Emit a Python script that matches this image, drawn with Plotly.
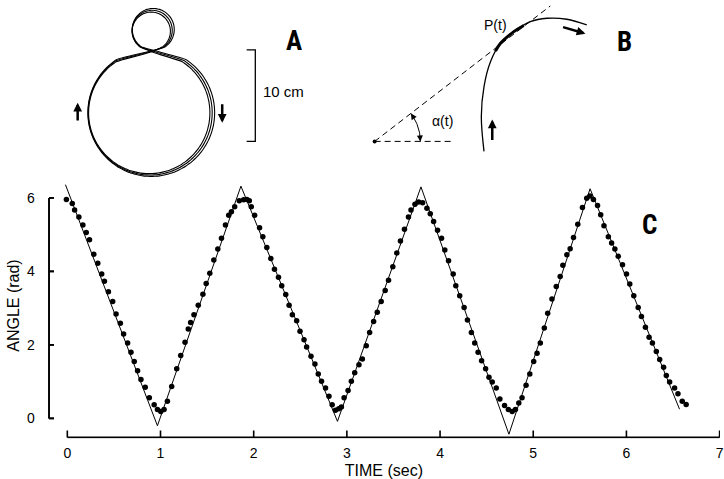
import numpy as np
import plotly.graph_objects as go

W, H = 724, 479

# ---------------- Panel C data ----------------
time_s = [-0.01, 0.053, 0.078, 0.124, 0.167, 0.203, 0.238, 0.284, 0.327, 0.369,
          0.398, 0.441, 0.487, 0.523, 0.569, 0.604, 0.647, 0.683, 0.718, 0.754,
          0.790, 0.836, 0.88, 0.932, 0.967, 1.003, 1.038, 1.074, 1.12, 1.174,
          1.217, 1.263, 1.298, 1.323, 1.359, 1.405, 1.455, 1.490, 1.529, 1.572,
          1.615, 1.654, 1.697, 1.732, 1.761, 1.796, 1.845, 1.892, 1.927, 1.953,
          1.974, 2.010, 2.063, 2.098, 2.141, 2.184, 2.223, 2.266, 2.301, 2.344,
          2.380, 2.415, 2.461, 2.497, 2.540, 2.568, 2.615, 2.657, 2.693, 2.728,
          2.771, 2.808, 2.842, 2.877, 2.913, 2.941, 2.970, 3.013, 3.048, 3.084,
          3.130, 3.166, 3.208, 3.244, 3.287, 3.326, 3.368, 3.411, 3.447, 3.493,
          3.536, 3.575, 3.618, 3.661, 3.688, 3.731, 3.770, 3.813, 3.859, 3.895,
          3.931, 3.973, 4.016, 4.051, 4.091, 4.141, 4.169, 4.211, 4.258, 4.294,
          4.336, 4.372, 4.408, 4.446, 4.489, 4.525, 4.560, 4.603, 4.642, 4.692,
          4.733, 4.774, 4.809, 4.845, 4.880, 4.923, 4.963, 5.005, 5.041, 5.076,
          5.119, 5.155, 5.201, 5.247, 5.289, 5.318, 5.361, 5.396, 5.432, 5.478,
          5.528, 5.574, 5.609, 5.646, 5.690, 5.724, 5.759, 5.806, 5.841, 5.876,
          5.912, 5.958, 6.001, 6.036, 6.079, 6.126, 6.161, 6.204, 6.243, 6.279,
          6.321, 6.357, 6.399, 6.428, 6.464, 6.517, 6.553, 6.599, 6.641]
angle_rad = [5.96, 5.85, 5.67, 5.48, 5.26, 5.06, 4.86, 4.47, 4.22, 3.93,
             3.73, 3.45, 3.18, 2.84, 2.59, 2.30, 2.05, 1.80, 1.55, 1.30,
             1.06, 0.85, 0.56, 0.37, 0.24, 0.19, 0.24, 0.47, 0.87, 1.35,
             1.71, 2.07, 2.43, 2.61, 2.82, 3.08, 3.38, 3.67, 3.95, 4.31,
             4.61, 4.90, 5.26, 5.53, 5.62, 5.76, 5.92, 5.95, 5.96, 5.92,
             5.76, 5.53, 5.19, 4.94, 4.65, 4.35, 4.06, 3.84, 3.61, 3.37,
             3.08, 2.82, 2.66, 2.37, 2.14, 1.94, 1.69, 1.48, 1.21, 1.01,
             0.83, 0.60, 0.37, 0.22, 0.26, 0.31, 0.56, 0.76, 1.01, 1.24,
             1.46, 1.62, 1.98, 2.34, 2.64, 2.89, 3.18, 3.48, 3.76, 4.13,
             4.50, 4.83, 5.15, 5.48, 5.67, 5.83, 5.89, 5.87, 5.72, 5.57,
             5.36, 5.12, 4.90, 4.58, 4.29, 3.93, 3.61, 3.34, 3.02, 2.68,
             2.34, 2.05, 1.80, 1.57, 1.35, 1.12, 0.99, 0.83, 0.53, 0.35,
             0.24, 0.19, 0.24, 0.42, 0.56, 0.90, 1.21, 1.55, 1.77, 2.05,
             2.46, 2.86, 3.25, 3.59, 3.86, 4.17, 4.45, 4.62, 4.92, 5.28,
             5.74, 5.99, 6.05, 5.96, 5.79, 5.54, 5.24, 4.94, 4.77, 4.61,
             4.41, 4.18, 3.93, 3.66, 3.34, 3.02, 2.77, 2.48, 2.21, 2.05,
             1.82, 1.60, 1.39, 1.17, 0.99, 0.83, 0.67, 0.47, 0.38]
fit_t = [-0.02, 0.967, 1.863, 2.899, 3.795, 4.739, 5.61, 6.57]
fit_angle = [6.36, -0.20, 6.32, -0.08, 6.30, -0.43, 6.25, 0.25]
x_ticks = [0, 1, 2, 3, 4, 5, 6, 7]
y_ticks = [0, 2, 4, 6]
x_title = "TIME (sec)"
y_title = "ANGLE (rad)"

# ---------------- Panel A diagram (units: cm, origin at big-loop centre) ----
loop_radius_cm = [6.8, 6.95, 6.65]
loop_shift_cm = [0.0, 0.12, -0.1]
small_radius_cm = [2.2, 2.3, 2.1]
small_centre_cm = [0.22, 9.0]
crossing_cm = [0.25, 6.75]
scalebar_x_cm = [10.58, 11.53, 11.53, 10.58]
scalebar_y_cm = [6.87, 6.87, -3.13, -3.13]
scalebar_label = "10 cm"

# ---------------- Panel B diagram (units: px, origin at angle vertex) -------
tangent_x = [0, 176.6]
tangent_y = [0, 135.7]
base_x = [0, 78.3]
base_y = [0, 0]
path_x = [110, 107.3, 110, 116.6, 126.6, 140, 156.6, 173.3, 193.3, 213.3]
path_y = [-10, 25, 55, 80, 98.4, 110, 120, 123.4, 122.4, 116.7]
thick_x = [121.5, 126.6, 140, 150]
thick_y = [90.5, 98.4, 110, 116.2]
arc_radius = 46
arc_deg = [0, 37.5]

FONT = "Liberation Sans, Arial, Helvetica, sans-serif"
LETTER_FONT = "Liberation Sans Narrow, Roboto Condensed, DejaVu Sans Condensed, Roboto, sans-serif"

# pixel geometry of panel C in the reference
X0, SX = 67.7, 93.7      # px of t=0, px per second
Y0, SY = 419.3, 36.83    # px of angle 0, px per rad
XAX_Y = 438.3            # px row of the time axis line
YAX_X = 49.3             # px column of the angle axis line
XD0 = YAX_X - 1.2        # left edge of the plotting area (px)
YD0 = XAX_Y + 1.2        # bottom edge of the plotting area (px)

# offset (range-frame) axis positions in data units
t_axis_at = (Y0 - XAX_Y) / SY      # angle value where the time axis sits
a_axis_at = (YAX_X - X0) / SX      # time value where the angle axis sits
x_tick_len = 7 / SY
y_tick_len = 5 / SX

fig = go.Figure()

# theoretical line + measured dots
fig.add_trace(go.Scatter(x=fit_t, y=fit_angle, mode="lines",
                         line=dict(color="black", width=1), hoverinfo="skip"))
fig.add_trace(go.Scatter(x=time_s, y=angle_rad, mode="markers",
                         marker=dict(color="black", size=5.5)))

# axis lines and inward tick marks, drawn on the data scales
ax_x, ax_y = [x_ticks[0], x_ticks[-1]], [t_axis_at, t_axis_at]
for t in x_ticks:
    ax_x += [None, t, t]
    ax_y += [None, t_axis_at, t_axis_at + x_tick_len]
ay_x, ay_y = [a_axis_at, a_axis_at], [y_ticks[0], y_ticks[-1]]
for v in y_ticks:
    ay_x += [None, a_axis_at, a_axis_at + y_tick_len]
    ay_y += [None, v, v]
for xs, ys in [(ax_x, ax_y), (ay_x, ay_y)]:
    fig.add_trace(go.Scatter(x=xs, y=ys, mode="lines", line=dict(color="black", width=1.6),
                             hoverinfo="skip", connectgaps=False))

# angle axis also as data-referenced shapes (drawn above the traces)
shapes = [dict(type="line", xref="x", yref="y", x0=a_axis_at, x1=a_axis_at,
               y0=y_ticks[0], y1=y_ticks[-1], layer="above",
               line=dict(color="black", width=1.6))]
for v in y_ticks:
    shapes.append(dict(type="line", xref="x", yref="y", x0=a_axis_at,
                       x1=a_axis_at + y_tick_len, y0=v, y1=v, layer="above",
                       line=dict(color="black", width=1.6)))

# ---- Panel A figure-eight (three overlapping traced passes)
for R, dx, r in zip(loop_radius_cm, loop_shift_cm, small_radius_cm):
    a_big = np.radians(np.linspace(57, 57 - 294, 140))
    bx = dx + R * np.cos(a_big)
    by = R * np.sin(a_big)
    a_small = np.radians(np.linspace(-55, 235, 60))
    sx = small_centre_cm[0] + dx + r * np.cos(a_small)
    sy = small_centre_cm[1] + (r - 2.2) + r * np.sin(a_small)
    cx, cy = crossing_cm[0] + dx, crossing_cm[1] + (R - 6.8) * 0.5
    px_ = np.concatenate([bx, [cx], sx, [cx], bx[:1]])
    py_ = np.concatenate([by, [cy], sy, [cy], by[:1]])
    fig.add_trace(go.Scatter(x=px_, y=py_, mode="lines", xaxis="x3", yaxis="y3",
                             line=dict(color="black", width=1.1, shape="spline"),
                             hoverinfo="skip"))
fig.add_trace(go.Scatter(x=scalebar_x_cm, y=scalebar_y_cm, mode="lines",
                         xaxis="x3", yaxis="y3", line=dict(color="black", width=1.3),
                         hoverinfo="skip"))

# ---- Panel B
fig.add_trace(go.Scatter(x=tangent_x, y=tangent_y, mode="lines", xaxis="x4", yaxis="y4",
                         line=dict(color="black", width=1, dash="6px,4px"), hoverinfo="skip"))
fig.add_trace(go.Scatter(x=base_x, y=base_y, mode="lines", xaxis="x4", yaxis="y4",
                         line=dict(color="black", width=1, dash="6px,4px"), hoverinfo="skip"))
fig.add_trace(go.Scatter(x=[0], y=[0], mode="markers", xaxis="x4", yaxis="y4",
                         marker=dict(color="black", size=4), hoverinfo="skip"))
fig.add_trace(go.Scatter(x=path_x, y=path_y, mode="lines", xaxis="x4", yaxis="y4",
                         line=dict(color="black", width=1.3, shape="spline"), hoverinfo="skip"))
fig.add_trace(go.Scatter(x=thick_x, y=thick_y, mode="lines", xaxis="x4", yaxis="y4",
                         line=dict(color="black", width=3, shape="spline"), hoverinfo="skip"))
arc = np.radians(np.linspace(arc_deg[0], arc_deg[1], 30))
fig.add_trace(go.Scatter(x=arc_radius * np.cos(arc), y=arc_radius * np.sin(arc),
                         mode="lines", xaxis="x4", yaxis="y4",
                         line=dict(color="black", width=1), hoverinfo="skip"))

annotations = []
def arrow(x, y, ax, ay, xr, yr, w=2.5, head=2, size=0.7):
    annotations.append(dict(x=x, y=y, ax=ax, ay=ay, xref=xr, yref=yr, axref=xr, ayref=yr,
                            text="", showarrow=True, arrowhead=head, arrowwidth=w,
                            arrowsize=size, arrowcolor="black"))

# panel A direction arrows
arrow(-7.95, 1.1, -7.95, -1.0, "x3", "y3")
arrow(7.9, -1.1, 7.9, 1.1, "x3", "y3")
# panel B arrows
arrow(212, 108, 188, 115, "x4", "y4")
arrow(118.3, 22, 118.3, 0, "x4", "y4")
t1 = np.radians(arc_deg[1]); t0 = np.radians(arc_deg[1] - 9)
arrow(arc_radius * np.cos(t1), arc_radius * np.sin(t1),
      arc_radius * np.cos(t0), arc_radius * np.sin(t0), "x4", "y4", w=1, head=2, size=1.2)
b0 = np.radians(arc_deg[0]); b1 = np.radians(arc_deg[0] + 9)
arrow(arc_radius * np.cos(b0), arc_radius * np.sin(b0),
      arc_radius * np.cos(b1), arc_radius * np.sin(b1), "x4", "y4", w=1, head=2, size=1.2)

title_font = dict(family=FONT, size=16, color="black")
annotations += [
    dict(x=12.2, y=2.3, xref="x3", yref="y3", text=scalebar_label, showarrow=False,
         xanchor="left", yanchor="middle", font=dict(family=FONT, size=15, color="black")),
    dict(x=121.6, y=116.7, xref="x4", yref="y4", text="P(t)", showarrow=False,
         xanchor="center", yanchor="middle", font=dict(family=FONT, size=14, color="black")),
    dict(x=68.3, y=20, xref="x4", yref="y4", text="α(t)", showarrow=False,
         xanchor="center", yanchor="middle", font=dict(family=FONT, size=14, color="black")),
    # angle-axis title, centred on the 0..6 range frame
    dict(x=13.5 / W, y=1 - 306 / H, xref="paper", yref="paper", text=y_title,
         showarrow=False, textangle=-90, xanchor="center", yanchor="middle",
         font=title_font),
]
for letter, lx, ly in [("A", 296, 41), ("B", 628, 42), ("C", 653, 225)]:
    annotations.append(dict(x=lx / W, y=1 - ly / H, xref="paper", yref="paper", text=letter,
                            showarrow=False, xanchor="center", yanchor="middle",
                            font=dict(family=LETTER_FONT, size=27, color="black", weight="bold")))

hidden = dict(visible=False, showgrid=False, zeroline=False, fixedrange=True)
tick_font = dict(family=FONT, size=14, color="black")

fig.update_layout(
    width=W, height=H, autosize=False,
    margin=dict(l=0, r=0, t=0, b=0, pad=0),
    paper_bgcolor="white", plot_bgcolor="rgba(0,0,0,0)",
    showlegend=False,
    font=dict(family=FONT, color="black"),
    annotations=annotations,
    shapes=shapes,
    xaxis=dict(domain=[XD0 / W, 1], range=[(XD0 - X0) / SX, (W - X0) / SX], anchor="y",
               showline=False, ticks="", showgrid=False, zeroline=False, fixedrange=True,
               tickvals=x_ticks, ticktext=[str(v) for v in x_ticks], tickfont=tick_font,
               ticklabelstandoff=4, ticklabeloverflow="allow",
               title=dict(text=x_title, font=title_font, standoff=7)),
    yaxis=dict(domain=[1 - YD0 / H, 1], range=[(Y0 - YD0) / SY, Y0 / SY], anchor="x",
               showline=False, ticks="", showgrid=False, zeroline=False, fixedrange=True,
               tickvals=y_ticks, ticktext=[str(v) for v in y_ticks], tickfont=tick_font,
               ticklabelstandoff=12),
    xaxis3=dict(domain=[0, 360 / W], range=[-151 / 9.17, (360 - 151) / 9.17],
                anchor="y3", **hidden),
    yaxis3=dict(domain=[1 - 180 / H, 1], range=[(113 - 180) / 9.17, 113 / 9.17],
                anchor="x3", **hidden),
    xaxis4=dict(domain=[360 / W, 1], range=[360 - 376.7, W - 376.7], anchor="y4", **hidden),
    yaxis4=dict(domain=[1 - 170 / H, 1], range=[141.7 - 170, 141.7], anchor="x4", **hidden),
)

fig.write_html("out.html", config={"displayModeBar": False},
               post_script="document.body.style.margin='0px';document.body.style.padding='0px';")
